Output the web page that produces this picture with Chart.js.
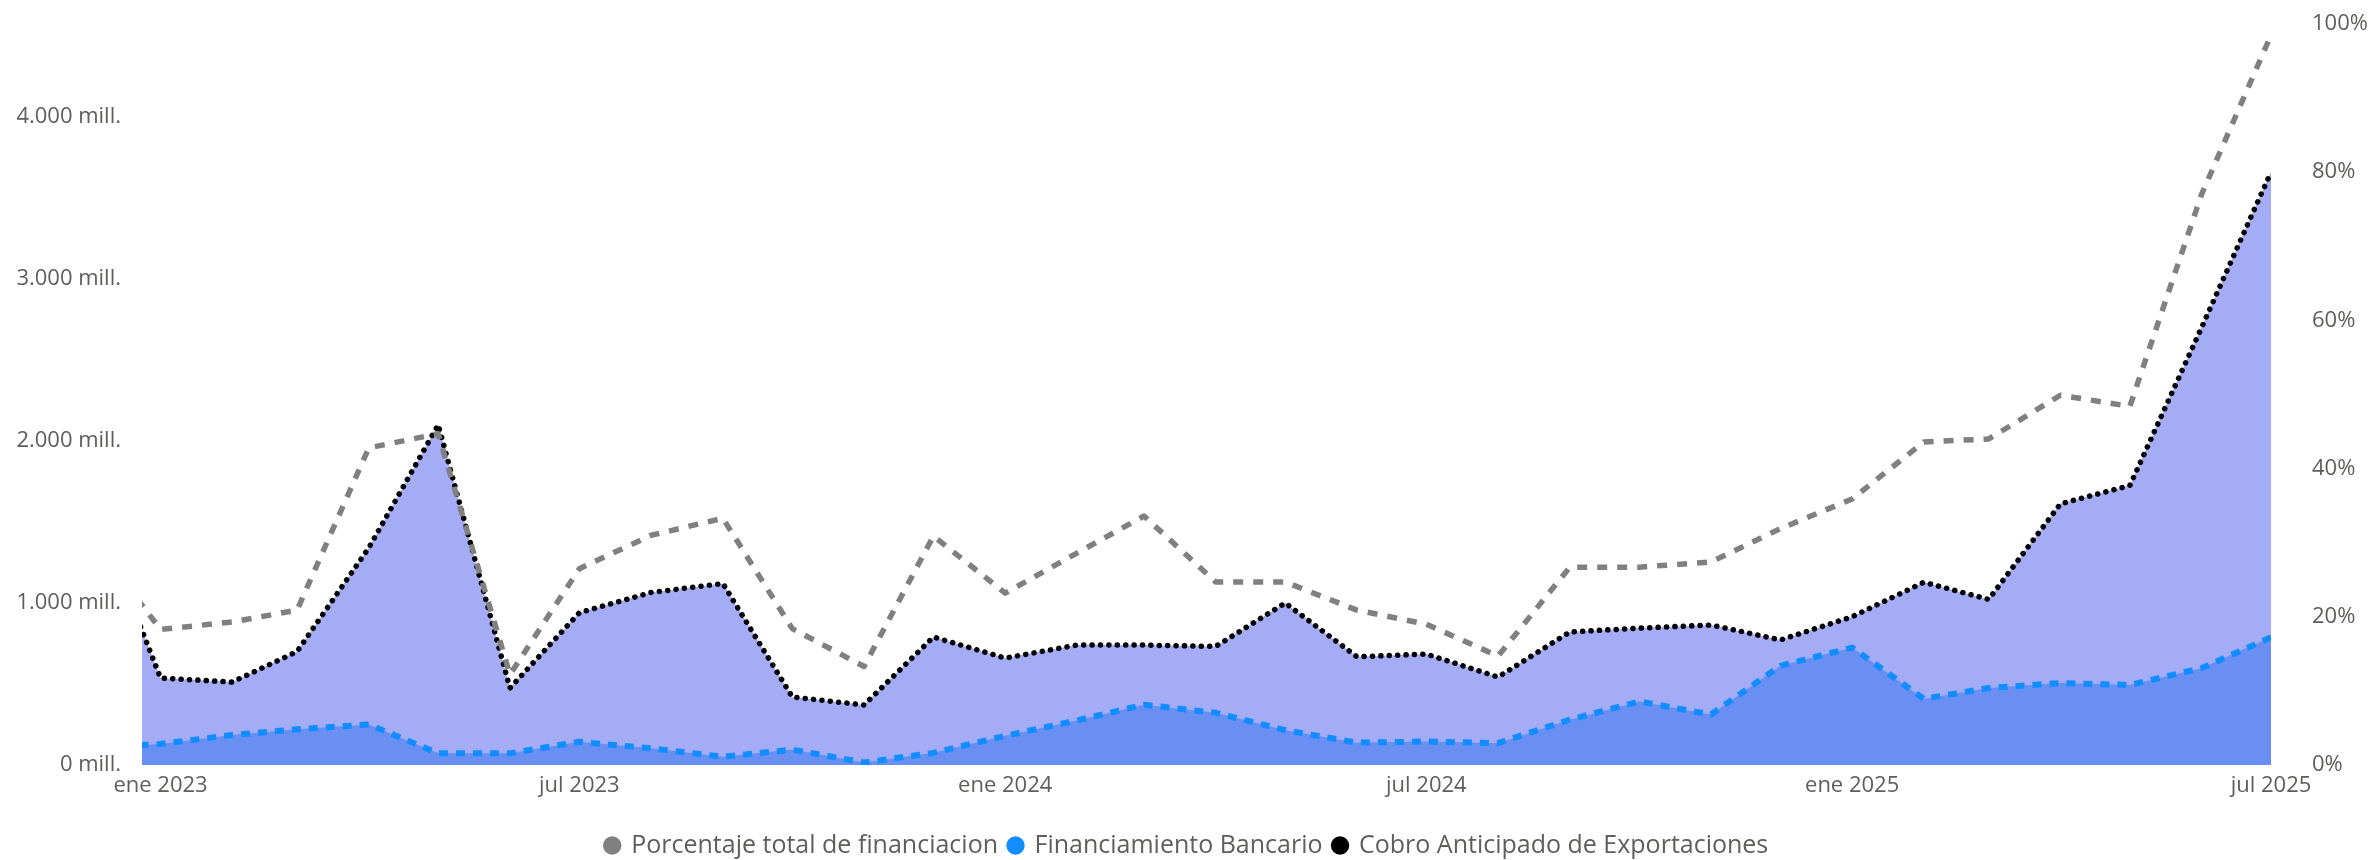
<!DOCTYPE html>
<html lang="es">
<head>
<meta charset="utf-8">
<title>Financiación</title>
<script src="https://cdn.jsdelivr.net/npm/chart.js@4.4.1/dist/chart.umd.min.js"></script>
<style>
  html, body { margin: 0; padding: 0; background: #fff; }
  #wrap { width: 2374px; height: 860px; }
</style>
</head>
<body>
<div id="wrap"><canvas id="chart" width="2374" height="860"></canvas></div>
<script>
// monthly values (first month only partly visible at the left edge)
const months = [
  '2022-12',
  '2023-01', '2023-02', '2023-03', '2023-04', '2023-05', '2023-06',
  '2023-07', '2023-08', '2023-09', '2023-10', '2023-11', '2023-12',
  '2024-01', '2024-02', '2024-03', '2024-04', '2024-05', '2024-06',
  '2024-07', '2024-08', '2024-09', '2024-10', '2024-11', '2024-12',
  '2025-01', '2025-02', '2025-03', '2025-04', '2025-05', '2025-06',
  '2025-07'
];

// % (right axis)
const porcentaje = [
  31,
  18.3, 19.3, 20.9, 42.8, 44.7, 12.2,
  26.5, 31, 33.3, 18.4, 13.3, 30.9,
  23.2, 28.6, 33.6, 24.7, 24.7, 20.9,
  19, 14.7, 26.7, 26.7, 27.4, 31.9,
  35.9, 43.6, 44, 49.9, 48.4, 77,
  98.5
];

// mill. (left axis)
const bancario = [
  103,
  130, 185, 220, 250, 72, 72,
  143, 103, 51, 95, 15, 75,
  180, 275, 372, 322, 215, 138,
  145, 135, 280, 392, 312, 612,
  725, 408, 475, 506, 494, 598,
  788
];

const cobro = [
  1675,
  537, 512, 700, 1340, 2100, 475,
  940, 1065, 1120, 420, 370, 790,
  660, 740, 740, 732, 1000, 668,
  685, 543, 821, 845, 864, 772,
  915, 1128, 1022, 1612, 1725, 2700,
  3660
];

const leftTicks = [0, 1000, 2000, 3000, 4000];
const rightTicks = [0, 20, 40, 60, 80, 100];
const tickMonths = ['2023-01', '2023-07', '2024-01', '2024-07', '2025-01', '2025-07'];
const tickLabels = ['ene 2023', 'jul 2023', 'ene 2024', 'jul 2024', 'ene 2025', 'jul 2025'];

// days since 1 Jan 2023, so the axis behaves like a date axis
function dayOf(ym) {
  const [y, m] = ym.split('-').map(Number);
  return (Date.UTC(y, m - 1, 1) - Date.UTC(2023, 0, 1)) / 86400000;
}
const xs = months.map(dayOf);
const tickDays = tickMonths.map(dayOf);
const pts = (vals) => vals.map((v, i) => ({x: xs[i], y: v}));

const textColor = '#605E5C';
const axisFont = {family: "'Open Sans', 'Noto Sans', sans-serif", size: 22};
const legendFont = {family: "'Open Sans', 'Noto Sans', sans-serif", size: 25};

function fmtMill(v) {
  if (v === 0) return '0 mill.';
  const th = Math.floor(v / 1000);
  const rest = String(v % 1000).padStart(3, '0');
  return th + '.' + rest + ' mill.';
}

// fixed axis widths, and no extra top/bottom room for the tick padding
const fitY = (w) => (axis) => {
  axis.width = w;
  axis.paddingTop = 0;
  axis.paddingBottom = 0;
};

const legendColors = ['#808080', '#118DFF', '#000000'];

new Chart(document.getElementById('chart'), {
  type: 'line',
  data: {
    datasets: [
      {
        label: 'Porcentaje total de financiacion',
        data: pts(porcentaje),
        yAxisID: 'y1',
        borderColor: '#808080',
        borderWidth: 5.5,
        borderDash: [10, 10],
        borderJoinStyle: 'round',
        fill: false,
        pointRadius: 0,
        tension: 0
      },
      {
        label: 'Financiamiento Bancario',
        data: pts(bancario),
        yAxisID: 'y',
        borderColor: '#118DFF',
        backgroundColor: '#698FF3',
        borderWidth: 6,
        borderDash: [9, 8],
        borderJoinStyle: 'round',
        fill: 'origin',
        pointRadius: 0,
        tension: 0
      },
      {
        label: 'Cobro Anticipado de Exportaciones',
        data: pts(cobro),
        yAxisID: 'y',
        borderColor: '#000000',
        backgroundColor: '#A3ACF4',
        borderWidth: 5.5,
        borderDash: [0.1, 8.3],
        borderCapStyle: 'round',
        fill: 'origin',
        pointRadius: 0,
        tension: 0
      }
    ]
  },
  options: {
    responsive: false,
    devicePixelRatio: 1,
    animation: false,
    events: [],
    layout: {padding: {top: 24, left: 0, right: 0, bottom: -8}},
    scales: {
      x: {
        type: 'linear',
        min: -8,
        max: dayOf('2025-07'),
        grid: {display: false, drawTicks: false},
        border: {display: false},
        afterBuildTicks: (axis) => {
          axis.ticks = tickDays.map(d => ({value: d}));
        },
        afterFit: (axis) => { axis.height = 57; },
        ticks: {
          color: textColor,
          font: axisFont,
          padding: 8,
          maxRotation: 0,
          autoSkip: false,
          callback: (v) => tickLabels[tickDays.indexOf(v)]
        }
      },
      y: {
        position: 'left',
        min: 0,
        max: 4574,
        grid: {display: false, drawTicks: false},
        border: {display: false},
        afterBuildTicks: (axis) => {
          axis.ticks = leftTicks.map(v => ({value: v}));
        },
        afterFit: fitY(142),
        ticks: {
          color: textColor,
          font: axisFont,
          padding: 21,
          callback: (v) => fmtMill(v)
        }
      },
      y1: {
        position: 'right',
        min: 0,
        max: 100,
        grid: {display: false, drawTicks: false},
        border: {display: false},
        afterBuildTicks: (axis) => {
          axis.ticks = rightTicks.map(v => ({value: v}));
        },
        afterFit: fitY(103),
        ticks: {
          color: textColor,
          font: axisFont,
          padding: 41,
          callback: (v) => v + '%'
        }
      }
    },
    plugins: {
      tooltip: {enabled: false},
      legend: {
        position: 'bottom',
        labels: {
          color: textColor,
          font: legendFont,
          usePointStyle: true,
          pointStyle: 'circle',
          boxWidth: 13,
          boxHeight: 13,
          padding: 11,
          generateLabels: (chart) => chart.data.datasets.map((ds, i) => ({
            text: ds.label,
            fillStyle: legendColors[i],
            strokeStyle: legendColors[i],
            lineWidth: 0,
            pointStyle: 'circle',
            fontColor: textColor,
            datasetIndex: i
          }))
        }
      }
    }
  }
});
</script>
</body>
</html>
